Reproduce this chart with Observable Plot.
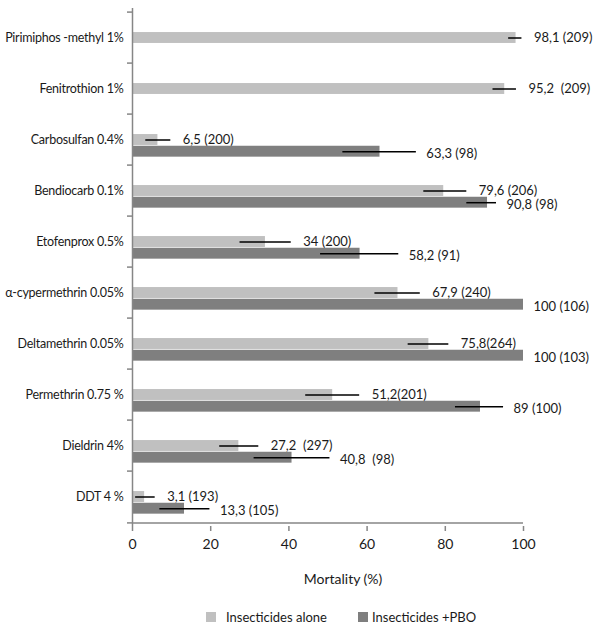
<!DOCTYPE html>
<html><head><meta charset="utf-8">
<script src="https://cdn.jsdelivr.net/npm/d3@7"></script>
<script src="https://cdn.jsdelivr.net/npm/@observablehq/plot@0.6"></script>
<style>
body{margin:0;background:#fff;font-family:Lato,"Liberation Sans",sans-serif;color:#1a1a1a;}
#wrap{width:600px;}
svg text{white-space:pre;}
svg g[aria-label="y-axis tick label"] text{letter-spacing:-0.25px;}
#xlabel{width:600px;box-sizing:border-box;padding-left:86px;text-align:center;font-size:14px;line-height:22px;margin-top:8px;}
#legend{position:relative;width:600px;height:16px;margin-top:19px;font-size:13px;line-height:16px;}
#legend span{position:absolute;top:0;white-space:nowrap;}
#legend i{position:absolute;top:3px;width:10px;height:10px;}
</style></head><body><div id="wrap"></div>
<script>
// ---- data ----
const categories = ["Pirimiphos -methyl 1%", "Fenitrothion 1%", "Carbosulfan 0.4%", "Bendiocarb 0.1%", "Etofenprox 0.5%", "α-cypermethrin 0.05%", "Deltamethrin 0.05%", "Permethrin 0.75 %", "Dieldrin 4%", "DDT 4 %"];
const aloneValues = [98.1, 95.2, 6.5, 79.6, 34, 67.9, 75.8, 51.2, 27.2, 3.1];
const aloneLow    = [96.2, 92.2, 3.4, 74.5, 27.5, 62.0, 70.5, 44.3, 22.3, 0.8];
const aloneHigh   = [99.6, 98.2, 9.8, 85.5, 40.6, 73.6, 80.9, 58.1, 32.3, 5.8];
const aloneLabels = ["98,1 (209)", "95,2  (209)", "6,5 (200)", "79,6 (206)", "34 (200)", "67,9 (240)", "75,8(264)", "51,2(201)", "27,2  (297)", "3,1 (193)"];
const pboValues = [null, null, 63.3, 90.8, 58.2, 100, 100, 89, 40.8, 13.3];
const pboLow    = [null, null, 53.8, 85.5, 48.1, null, null, 82.6, 31.1, 7.0];
const pboHigh   = [null, null, 72.6, 93.1, 68.1, null, null, 94.9, 50.5, 19.8];
const pboLabels = [null, null, "63,3 (98)", "90,8 (98)", "58,2 (91)", "100 (106)", "100 (103)", "89 (100)", "40,8  (98)", "13,3 (105)"];
const xTicks = [0, 20, 40, 60, 80, 100];
const xLabel = "Mortality (%)";
const seriesNames = ["Insecticides alone", "Insecticides +PBO"];

// ---- layout ----
const W = 600, H = 560, mt = 8, mb = 34, ml = 132, mr = 77;
const step = (H - mt - mb) / categories.length;
const barH = step * 0.226;
const lightInset = (step - barH) / 2;
const grey = "#868686", light = "#c0c0c0", dark = "#7f7f7f";
const font = 'Lato,"Liberation Sans",sans-serif';

const aloneRows = categories.map((c, i) => ({cat: c, v: aloneValues[i], lo: aloneLow[i], hi: aloneHigh[i], label: aloneLabels[i]}));
const pboRows = categories.map((c, i) => ({cat: c, v: pboValues[i], lo: pboLow[i], hi: pboHigh[i], label: pboLabels[i]})).filter(d => d.v != null);
const lastCat = categories[categories.length - 1];

const chart = Plot.plot({
  width: W, height: H, marginTop: mt, marginBottom: mb, marginLeft: ml, marginRight: mr,
  style: {fontFamily: font, fontSize: "13px", color: "#1a1a1a", background: "#fff", overflow: "visible"},
  x: {domain: [0, 100]},
  y: {domain: categories, padding: 0},
  marks: [
    Plot.barX(aloneRows, {x: "v", y: "cat", fill: light, insetTop: lightInset, insetBottom: lightInset}),
    Plot.barX(pboRows, {x: "v", y: "cat", fill: dark, insetTop: lightInset + barH, insetBottom: lightInset - barH}),
    Plot.ruleX([0], {stroke: grey, strokeWidth: 1.5}),
    Plot.ruleY(categories, {y: d => d, x1: 0, x2: 0, insetLeft: -5, dy: -step / 2, stroke: grey, strokeWidth: 1.5}),
    Plot.ruleY([lastCat], {y: d => d, x1: 0, x2: 0, insetLeft: -5, dy: step / 2, stroke: grey, strokeWidth: 1.5}),
    Plot.ruleY([lastCat], {y: d => d, x1: 0, x2: 100, dy: step / 2, stroke: grey, strokeWidth: 1.5}),
    Plot.axisX({ticks: xTicks, tickSize: 5, tickPadding: 8, stroke: grey, strokeWidth: 1.5, fill: "#1a1a1a", fontSize: 14, label: null}),
    Plot.axisY({tickSize: 0, tickPadding: 9, fontSize: 12.5, label: null}),
    Plot.ruleY(aloneRows.filter(d => d.lo != null), {y: "cat", x1: "lo", x2: "hi", stroke: "#000", strokeWidth: 1.5}),
    Plot.ruleY(pboRows.filter(d => d.lo != null), {y: "cat", x1: "lo", x2: "hi", stroke: "#000", strokeWidth: 1.5, dy: barH}),
    Plot.text(aloneRows, {y: "cat", x: d => d.hi ?? d.v, text: "label", textAnchor: "start", dx: 12, fontSize: 13}),
    Plot.text(pboRows, {y: "cat", x: d => d.hi ?? d.v, text: "label", textAnchor: "start", dx: 10, dy: barH + 2, fontSize: 13})
  ]
});
const wrap = document.getElementById("wrap");
wrap.appendChild(chart);

const xl = document.createElement("div");
xl.id = "xlabel"; xl.textContent = xLabel;
wrap.appendChild(xl);

const lg = document.createElement("div");
lg.id = "legend";
const items = [[seriesNames[0], light, 206, 226], [seriesNames[1], dark, 358, 372]];
for (const [name, col, sx, tx] of items) {
  const sw = document.createElement("i"); sw.style.left = sx + "px"; sw.style.background = col;
  const t = document.createElement("span"); t.style.left = tx + "px"; t.textContent = name;
  lg.appendChild(sw); lg.appendChild(t);
}
wrap.appendChild(lg);
</script></body></html>
